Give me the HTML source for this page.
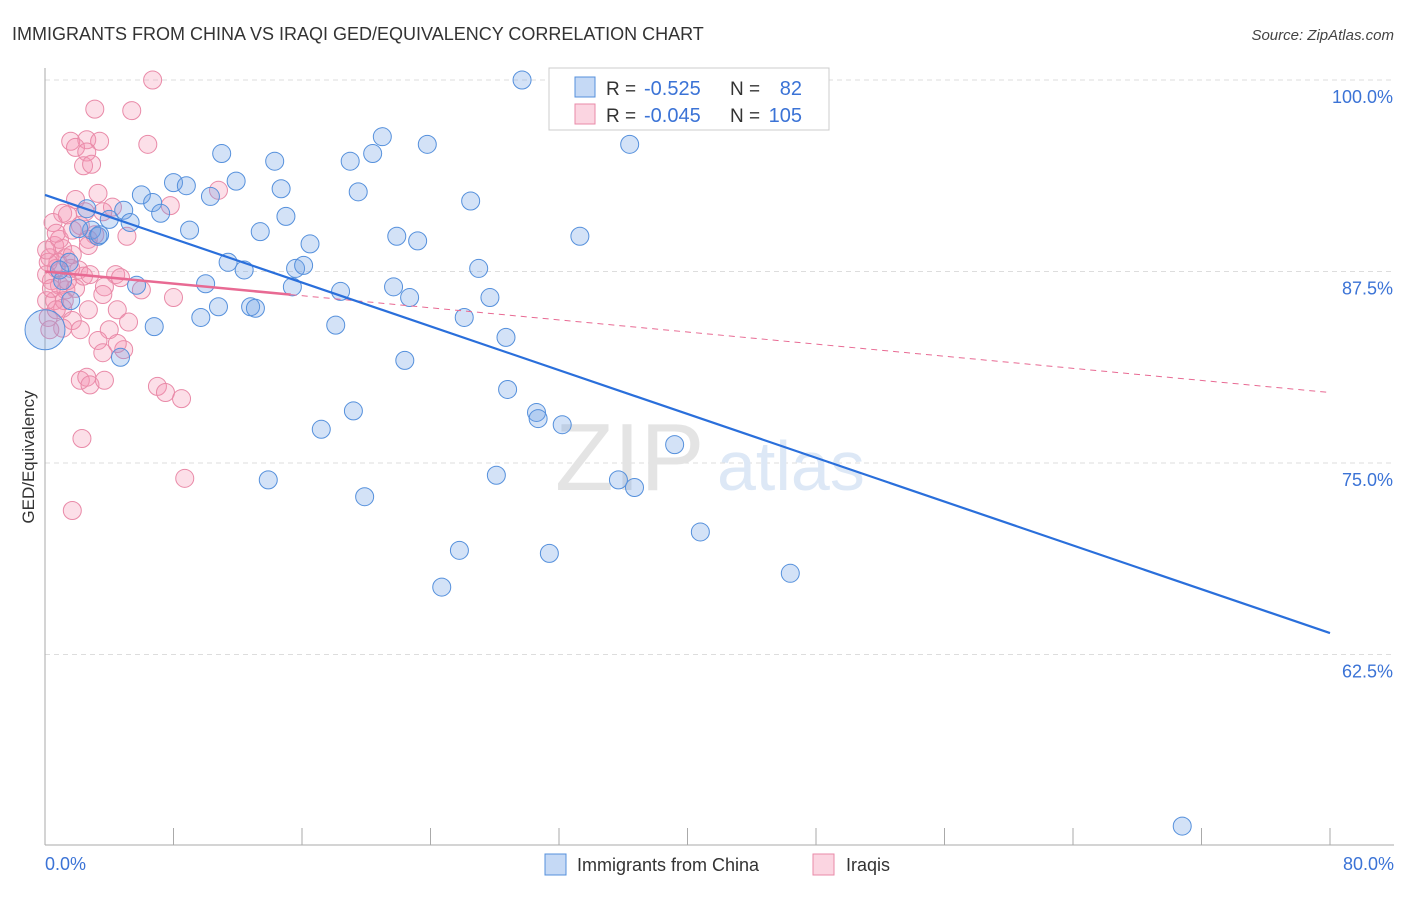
<!DOCTYPE html>
<html><head><meta charset="utf-8"><style>
body{margin:0;background:#fff;font-family:"Liberation Sans",sans-serif}
svg text{font-family:"Liberation Sans",sans-serif}
</style></head><body>
<svg id="c" width="1406" height="892"></svg>
<script>
const blueX=[29.7,32.9,11.0,21.0,23.8,36.4,14.3,19.0,20.4,11.9,8.0,8.8,6.0,6.7,10.3,14.7,19.5,26.5,4.9,7.2,4.0,5.3,2.6,15.0,2.9,9.0,13.4,21.9,23.2,33.3,16.5,3.3,2.1,11.4,12.4,15.6,16.1,27.0,10.0,15.4,18.4,21.7,22.7,27.7,5.7,1.1,9.7,10.8,12.8,13.1,6.8,18.1,26.1,28.7,4.7,22.4,28.8,30.6,30.7,19.2,32.2,17.2,39.2,13.9,19.9,28.1,35.7,36.7,25.8,31.4,40.8,24.7,46.4,70.8,1.5,0.9,3.4,1.6];
const blueY=[100,100,95.2,96.3,95.8,95.8,94.7,94.7,95.2,93.4,93.3,93.1,92.5,92.0,92.4,92.9,92.7,92.1,91.5,91.3,90.9,90.7,91.6,91.1,90.2,90.2,90.1,89.8,89.5,89.8,89.3,89.8,90.3,88.1,87.6,87.7,87.9,87.7,86.7,86.5,86.2,86.5,85.8,85.8,86.6,86.9,84.5,85.2,85.2,85.1,83.9,84.0,84.5,83.2,81.9,81.7,79.8,78.3,77.9,78.4,77.5,77.2,76.2,73.9,72.8,74.2,73.9,73.4,69.3,69.1,70.5,66.9,67.8,51.3,88.1,87.6,89.9,85.6];
const bigBlue=[[0,83.7]];
const pinkX=[6.7,3.1,5.4,1.6,2.6,6.4,3.4,1.9,2.6,2.4,2.9,3.3,1.9,4.2,3.6,2.5,1.1,0.5,1.4,2.2,5.1,7.8,10.8,2.7,0.6,1.1,1.3,0.3,0.8,1.7,2.1,0.7,0.2,0.4,0.9,1.3,1.9,2.4,2.8,4.4,4.7,3.7,3.6,6.0,8.0,0.6,1.1,2.7,4.5,1.7,2.2,1.1,0.2,0.3,4.0,3.3,3.6,4.9,4.5,5.2,2.2,2.6,2.8,3.7,7.0,7.5,8.5,2.3,8.7,1.7,0.9,0.1,1.2,1.6,0.7,3.1,0.1,0.7,1.7,0.1,1.4,2.7,0.4];
const pinkY=[100,98.1,98.0,96.0,96.1,95.8,96.0,95.6,95.3,94.4,94.5,92.6,92.2,91.7,91.4,91.4,91.3,90.7,91.2,90.5,89.8,91.8,92.8,89.6,89.2,89.0,88.4,88.4,88.1,88.6,87.6,87.7,88.1,86.9,86.6,86.3,86.4,87.2,87.3,87.3,87.1,86.5,86.0,86.3,85.8,85.6,85.1,85.0,85.0,84.3,83.7,83.8,84.5,83.7,83.7,83.0,82.2,82.4,82.8,84.2,80.4,80.6,80.1,80.4,80.0,79.6,79.2,76.6,74.0,71.9,89.6,87.3,85.6,87.7,90.0,89.9,85.6,85.0,90.2,88.9,86.9,89.2,86.4];
const blueTrend=[[0,92.5],[80,63.9]];
const pinkTrend=[[0,87.5],[80,79.6]];
const pinkSolidEnd=15.3;
const yTicks=[100,87.5,75,62.5];
const yTickLabels=["100.0%","87.5%","75.0%","62.5%"];
const xTicks=[0,8,16,24,32,40,48,56,64,72,80];

const NS="http://www.w3.org/2000/svg",svg=document.getElementById('c');
const X=v=>45+v*(1285/80), Y=v=>80+(100-v)*15.32;
function mk(t,a,txt){const e=document.createElementNS(NS,t);for(const k in a)e.setAttribute(k,a[k]);if(txt!=null)e.textContent=txt;svg.appendChild(e);return e;}
let e;
e=mk('text',{x:12,y:40,'font-size':18,fill:'#333'},'IMMIGRANTS FROM CHINA VS IRAQI GED/EQUIVALENCY CORRELATION CHART');

e=mk('text',{x:1394,y:40,'font-size':15,fill:'#444','font-style':'italic','text-anchor':'end'},'Source: ZipAtlas.com');

yTicks.forEach((t,i)=>{
 e=mk('line',{x1:45,x2:1394,y1:Y(t),y2:Y(t),stroke:'#ddd','stroke-dasharray':'5,4'});
 
 e=mk('text',{x:1393,y:Y(t)+23,'font-size':18,fill:'#3b73d6','text-anchor':'end'},yTickLabels[i]);
 
});
e=mk('line',{x1:45,x2:45,y1:68,y2:845,stroke:'#aaa'});
e=mk('line',{x1:45,x2:1394,y1:845,y2:845,stroke:'#aaa'});
xTicks.forEach(t=>{e=mk('line',{x1:X(t),x2:X(t),y1:828,y2:845,stroke:'#aaa'});});
e=mk('text',{x:45,y:870,'font-size':18,fill:'#3b73d6'},'0.0%');
e=mk('text',{x:1394,y:870,'font-size':18,fill:'#3b73d6','text-anchor':'end'},'80.0%');
e=mk('text',{x:34,y:457,'font-size':17,fill:'#333','text-anchor':'middle',transform:'rotate(-90 34 457)'},'GED/Equivalency');

e=mk('text',{x:555,y:490,'font-size':96,fill:'#e4e4e4','font-family':'Liberation Serif'},'ZIP');
e=mk('text',{x:717,y:490,'font-size':70,fill:'#dde8f6'},'atlas');
pinkX.forEach((v,i)=>{e=mk('circle',{cx:X(v),cy:Y(pinkY[i]),r:9,fill:'rgba(244,150,180,0.3)',stroke:'#e98aa8','stroke-width':1});
 });
blueX.forEach((v,i)=>{e=mk('circle',{cx:X(v),cy:Y(blueY[i]),r:9,fill:'rgba(110,160,230,0.3)',stroke:'#5590dc','stroke-width':1});
 });
bigBlue.forEach(p=>{e=mk('circle',{cx:X(p[0]),cy:Y(p[1]),r:20,fill:'rgba(110,160,230,0.3)',stroke:'#5590dc'});
 });
const lerp=(tr,x)=>tr[0][1]+(tr[1][1]-tr[0][1])*(x-tr[0][0])/(tr[1][0]-tr[0][0]);
e=mk('line',{x1:X(pinkSolidEnd),y1:Y(lerp(pinkTrend,pinkSolidEnd)),x2:X(pinkTrend[1][0]),y2:Y(pinkTrend[1][1]),stroke:'#e86a93','stroke-width':1,'stroke-dasharray':'6,5'});

e=mk('line',{x1:X(pinkTrend[0][0]),y1:Y(pinkTrend[0][1]),x2:X(pinkSolidEnd),y2:Y(lerp(pinkTrend,pinkSolidEnd)),stroke:'#e86a93','stroke-width':2.5});

e=mk('line',{x1:X(blueTrend[0][0]),y1:Y(blueTrend[0][1]),x2:X(blueTrend[1][0]),y2:Y(blueTrend[1][1]),stroke:'#2a6fdb','stroke-width':2.2});

e=mk('rect',{x:549,y:68,width:280,height:62,fill:'#fff',stroke:'#ccc'});
[[ '#5590dc','rgba(110,160,230,0.4)','-0.525',' 82',95],['#e98aa8','rgba(244,150,180,0.4)','-0.045','105',122]].forEach((r,i)=>{
 e=mk('rect',{x:575,y:r[4]-18,width:20,height:20,fill:r[1],stroke:r[0]});
 e=mk('text',{x:606,y:r[4],'font-size':19,fill:'#333'},'R = ');
 e=mk('text',{x:644,y:r[4],'font-size':20,fill:'#3b73d6'},r[2]);
 e=mk('text',{x:730,y:r[4],'font-size':19,fill:'#333'},'N = ');
 e=mk('text',{x:802,y:r[4],'font-size':20,fill:'#3b73d6','text-anchor':'end'},r[3].trim());
});
e=mk('rect',{x:545,y:854,width:21,height:21,fill:'rgba(110,160,230,0.4)',stroke:'#5590dc'});
e=mk('text',{x:577,y:871,'font-size':18,fill:'#333'},'Immigrants from China');
e=mk('rect',{x:813,y:854,width:21,height:21,fill:'rgba(244,150,180,0.4)',stroke:'#e98aa8'});
e=mk('text',{x:846,y:871,'font-size':18,fill:'#333'},'Iraqis');
</script>
</body></html>
